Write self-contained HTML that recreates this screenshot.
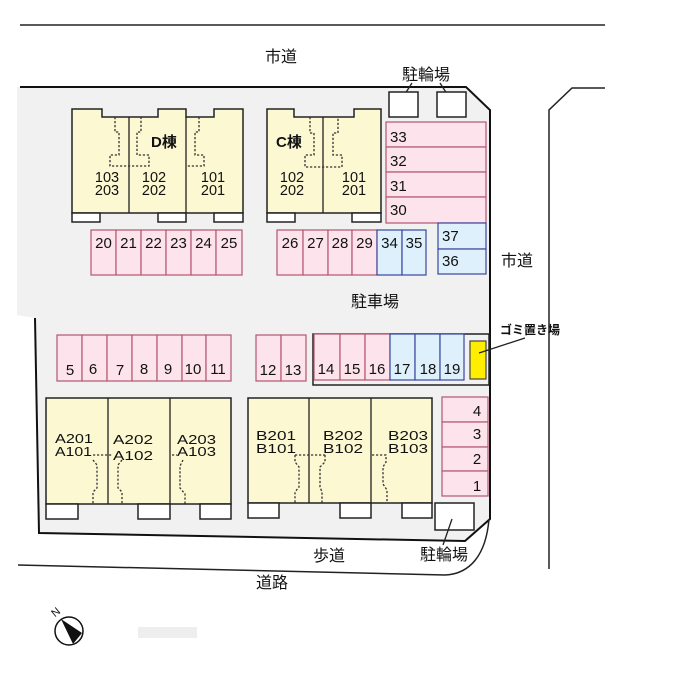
<!DOCTYPE html>
<html><head><meta charset="utf-8"><style>
html,body{margin:0;padding:0;background:#fff;}
svg{display:block;}
text{font-family:"Liberation Sans","Noto Sans CJK JP",sans-serif;fill:#111;}
.n{font-size:15px;text-anchor:middle;}
.u{font-size:14.5px;text-anchor:middle;}
.j{font-size:16px;text-anchor:middle;}
.pk{fill:#fde3ec;stroke:#b3576e;stroke-width:1.2;}
.bl{fill:#ddf0fb;stroke:#3a46a0;stroke-width:1.2;}
.bd{fill:#fcf8d2;stroke:#222;stroke-width:1.5;}
.wb{fill:#fff;stroke:#222;stroke-width:1.5;}
.dl{fill:none;stroke:#333;stroke-width:1.3;stroke-dasharray:2.2,1.8;}
.ln{fill:none;stroke:#222;stroke-width:1.3;}
</style></head><body>
<svg width="700" height="676" viewBox="0 0 700 676" xmlns="http://www.w3.org/2000/svg">
<rect width="700" height="676" fill="#fff"/>
<!-- site -->
<path d="M17,87 H466 L490,110 V519 L465,541 L39,533 L35,318 L17,315 Z" fill="#f1f1f1"/>
<path d="M20,87 H466 L490,110 V519 L465,541 L39,533 L35,318" fill="none" stroke="#111" stroke-width="2"/>
<!-- roads -->
<path d="M20,25 H605" fill="none" stroke="#222" stroke-width="1.5"/>
<path d="M549,569 V110 L572,88 H605" fill="none" stroke="#222" stroke-width="1.5"/>
<path d="M18,565 L445,575 C470,574 486,555 489,519" fill="none" stroke="#222" stroke-width="1.5"/>
<text class="j" x="281" y="62">市道</text>
<text class="j" x="517" y="266">市道</text>
<text class="j" x="426" y="80">駐輪場</text>
<path class="ln" d="M412,83 L403,97 M440,83 L449,97"/>
<rect class="wb" x="389" y="92" width="29" height="25"/>
<rect class="wb" x="437" y="92" width="29" height="25"/>

<!-- D building -->
<path class="bd" d="M72,109 H102 V117 H158 V109 H186 V117 H214 V109 H243 V213 H72 Z"/>
<path class="ln" d="M129,117 V213 M186,117 V213"/>
<rect class="wb" x="72" y="213" width="28" height="9"/>
<rect class="wb" x="158" y="213" width="28" height="9"/>
<rect class="wb" x="214" y="213" width="29" height="9"/>
<path class="dl" d="M115,117 V132 H119 V155 H110 V166 H149 V155 H137 V132 H141 V117"/>
<path class="dl" d="M199,117 V132 H195 V155 H204 V166 H186"/>
<text x="151" y="147" style="font-size:15px;font-weight:bold">D棟</text>
<text class="u" x="107" y="182">103</text><text class="u" x="107" y="195">203</text>
<text class="u" x="154" y="182">102</text><text class="u" x="154" y="195">202</text>
<text class="u" x="213" y="182">101</text><text class="u" x="213" y="195">201</text>

<!-- C building -->
<path class="bd" d="M267,109 H294 V117 H354 V109 H381 V213 H267 Z"/>
<path class="ln" d="M323,117 V213"/>
<rect class="wb" x="267" y="213" width="28" height="9"/>
<rect class="wb" x="352" y="213" width="29" height="9"/>
<path class="dl" d="M310,117 V133 H314 V155 H305 V167 H342 V155 H333 V133 H338 V117"/>
<text x="276" y="147" style="font-size:15px;font-weight:bold">C棟</text>
<text class="u" x="292" y="182">102</text><text class="u" x="292" y="195">202</text>
<text class="u" x="354" y="182">101</text><text class="u" x="354" y="195">201</text>

<!-- parking 33-30 -->
<rect class="pk" x="386" y="122" width="100" height="25"/>
<rect class="pk" x="386" y="147" width="100" height="25"/>
<rect class="pk" x="386" y="172" width="100" height="25"/>
<rect class="pk" x="386" y="197" width="100" height="26"/>
<text x="390" y="142" style="font-size:15px">33</text>
<text x="390" y="166" style="font-size:15px">32</text>
<text x="390" y="191" style="font-size:15px">31</text>
<text x="390" y="215" style="font-size:15px">30</text>
<rect class="bl" x="438" y="223" width="48" height="26"/>
<rect class="bl" x="438" y="249" width="48" height="25"/>
<text x="442" y="241" style="font-size:15px">37</text>
<text x="442" y="266" style="font-size:15px">36</text>

<!-- parking 20-25 -->
<rect class="pk" x="91" y="230" width="25" height="45"/>
<rect class="pk" x="116" y="230" width="25" height="45"/>
<rect class="pk" x="141" y="230" width="25" height="45"/>
<rect class="pk" x="166" y="230" width="25" height="45"/>
<rect class="pk" x="191" y="230" width="25" height="45"/>
<rect class="pk" x="216" y="230" width="26" height="45"/>
<text class="n" x="103.5" y="248">20</text><text class="n" x="128.5" y="248">21</text>
<text class="n" x="153.5" y="248">22</text><text class="n" x="178.5" y="248">23</text>
<text class="n" x="203.5" y="248">24</text><text class="n" x="229" y="248">25</text>

<!-- parking 26-35 -->
<rect class="pk" x="277" y="230" width="26" height="45"/>
<rect class="pk" x="303" y="230" width="25" height="45"/>
<rect class="pk" x="328" y="230" width="24" height="45"/>
<rect class="pk" x="352" y="230" width="25" height="45"/>
<rect class="bl" x="377" y="230" width="25" height="45"/>
<rect class="bl" x="402" y="230" width="24" height="45"/>
<text class="n" x="290" y="248">26</text><text class="n" x="315.5" y="248">27</text>
<text class="n" x="340" y="248">28</text><text class="n" x="364.5" y="248">29</text>
<text class="n" x="389.5" y="248">34</text><text class="n" x="414" y="248">35</text>

<text class="j" x="375" y="307">駐車場</text>

<!-- parking 5-11 -->
<rect class="pk" x="57" y="335" width="25" height="46"/>
<rect class="pk" x="82" y="335" width="25" height="46"/>
<rect class="pk" x="107" y="335" width="25" height="46"/>
<rect class="pk" x="132" y="335" width="25" height="46"/>
<rect class="pk" x="157" y="335" width="25" height="46"/>
<rect class="pk" x="182" y="335" width="24" height="46"/>
<rect class="pk" x="206" y="335" width="25" height="46"/>
<text class="n" x="70" y="375">5</text><text class="n" x="93" y="374">6</text>
<text class="n" x="120" y="375">7</text><text class="n" x="144" y="374">8</text>
<text class="n" x="168" y="374">9</text><text class="n" x="193" y="374">10</text>
<text class="n" x="218" y="374">11</text>
<rect class="pk" x="256" y="335" width="25" height="46"/>
<rect class="pk" x="281" y="335" width="25" height="46"/>
<text class="n" x="268" y="375">12</text><text class="n" x="293" y="375">13</text>

<!-- 14-19 box -->
<rect x="313" y="334" width="176" height="51" fill="none" stroke="#222" stroke-width="1.5"/>
<rect class="pk" x="314" y="334" width="26" height="46"/>
<rect class="pk" x="340" y="334" width="25" height="46"/>
<rect class="pk" x="365" y="334" width="25" height="46"/>
<rect class="bl" x="390" y="334" width="25" height="46"/>
<rect class="bl" x="415" y="334" width="25" height="46"/>
<rect class="bl" x="440" y="334" width="24" height="46"/>
<text class="n" x="326" y="374">14</text><text class="n" x="352" y="374">15</text>
<text class="n" x="377" y="374">16</text><text class="n" x="402" y="374">17</text>
<text class="n" x="428" y="374">18</text><text class="n" x="452" y="374">19</text>
<rect x="470" y="341" width="16" height="38" fill="#ffee00" stroke="#444" stroke-width="1.2"/>
<path class="ln" d="M479,353 L525,338"/>
<text x="530" y="334" style="font-size:12px;font-weight:bold;text-anchor:middle">ゴミ置き場</text>

<!-- building A -->
<rect class="bd" x="46" y="398" width="185" height="106"/>
<path class="ln" d="M108,398 V504 M170,398 V504"/>
<rect class="wb" x="46" y="504" width="32" height="15"/>
<rect class="wb" x="138" y="504" width="32" height="15"/>
<rect class="wb" x="200" y="504" width="31" height="15"/>
<path class="dl" d="M93,455 H113 M93,460 L97,465 V488 L93,492 V504 M122,460 L118,465 V488 L122,492 V504 M172,455 H177 M183,460 L180,466 V488 L185,494 V504"/>
<text x="55" y="443" style="font-size:13px" textLength="38" lengthAdjust="spacingAndGlyphs">A201</text>
<text x="55" y="456" style="font-size:13px" textLength="37" lengthAdjust="spacingAndGlyphs">A101</text>
<text x="113" y="444" style="font-size:13px" textLength="40" lengthAdjust="spacingAndGlyphs">A202</text>
<text x="113" y="460" style="font-size:13px" textLength="40" lengthAdjust="spacingAndGlyphs">A102</text>
<text x="177" y="444" style="font-size:13px" textLength="39" lengthAdjust="spacingAndGlyphs">A203</text>
<text x="177" y="456" style="font-size:13px" textLength="39" lengthAdjust="spacingAndGlyphs">A103</text>

<!-- building B -->
<rect class="bd" x="248" y="398" width="184" height="105"/>
<path class="ln" d="M309,398 V503 M371,398 V503"/>
<rect class="wb" x="248" y="503" width="31" height="15"/>
<rect class="wb" x="340" y="503" width="31" height="15"/>
<rect class="wb" x="402" y="503" width="30" height="15"/>
<path class="dl" d="M295,455 H326 M295,455 V462 L299,467 V487 L295,492 V503 M325,455 V462 L320,467 V487 L322,492 V503 M372,455 H386 V462 L383,467 V484 L387,490 V503"/>
<text x="256" y="440" style="font-size:13px" textLength="40" lengthAdjust="spacingAndGlyphs">B201</text>
<text x="256" y="453" style="font-size:13px" textLength="40" lengthAdjust="spacingAndGlyphs">B101</text>
<text x="323" y="440" style="font-size:13px" textLength="40" lengthAdjust="spacingAndGlyphs">B202</text>
<text x="323" y="453" style="font-size:13px" textLength="40" lengthAdjust="spacingAndGlyphs">B102</text>
<text x="388" y="440" style="font-size:13px" textLength="40" lengthAdjust="spacingAndGlyphs">B203</text>
<text x="388" y="453" style="font-size:13px" textLength="40" lengthAdjust="spacingAndGlyphs">B103</text>

<!-- parking 4-1 -->
<rect class="pk" x="442" y="397" width="46" height="25"/>
<rect class="pk" x="442" y="422" width="46" height="25"/>
<rect class="pk" x="442" y="447" width="46" height="24"/>
<rect class="pk" x="442" y="471" width="46" height="25"/>
<text class="n" x="477" y="416">4</text>
<text class="n" x="477" y="439">3</text>
<text class="n" x="477" y="464">2</text>
<text class="n" x="477" y="491">1</text>

<!-- bottom bike -->
<rect class="wb" x="435" y="503" width="39" height="27"/>
<path class="ln" d="M452,519 L443,545"/>
<text class="j" x="444" y="560">駐輪場</text>
<text class="j" x="329" y="561">歩道</text>
<text class="j" x="272" y="588">道路</text>

<!-- compass -->
<circle cx="69" cy="631" r="14" fill="#fff" stroke="#111" stroke-width="1.5"/>
<polygon points="61,619 82,633 73,644" fill="#111"/>
<text transform="translate(58,615) rotate(-40)" style="font-size:11px;text-anchor:middle">N</text>
<rect x="138" y="627" width="59" height="11" fill="#eeeeee"/>
</svg>
</body></html>
